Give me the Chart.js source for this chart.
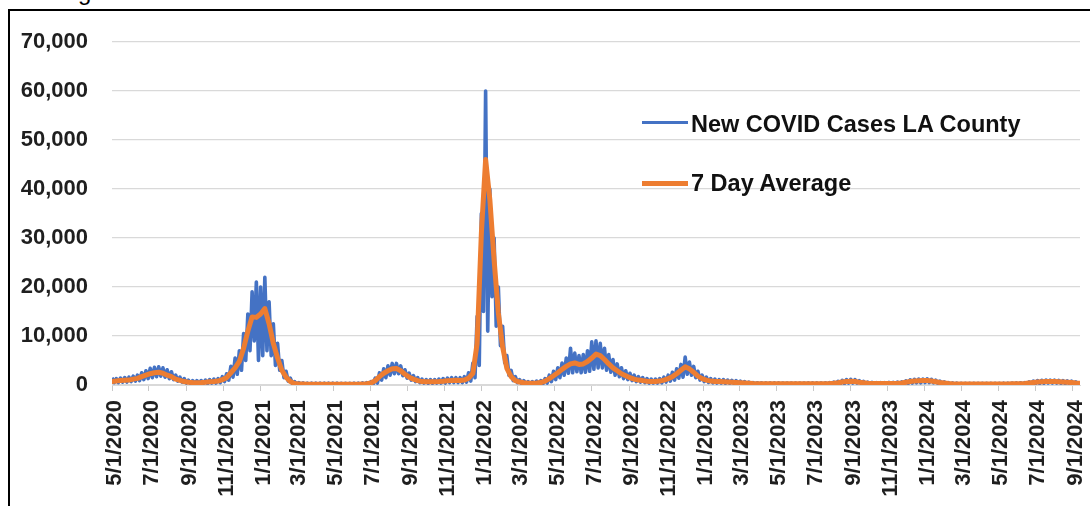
<!DOCTYPE html>
<html>
<head>
<meta charset="utf-8">
<script src="https://cdn.jsdelivr.net/npm/chart.js@4.4.1/dist/chart.umd.min.js"></script>
<style>
html,body{margin:0;padding:0;background:#fff;width:1090px;height:506px;overflow:hidden;font-family:'Liberation Sans',Arial,sans-serif;}
#frame{position:absolute;left:8px;top:9px;width:1200px;height:700px;border-left:2px solid #000;border-top:2px solid #000;}
#cut{position:absolute;left:78px;top:-20px;font-size:24px;line-height:24px;color:#000;}
#c{position:absolute;left:0;top:0;}
.sw{position:absolute;left:642px;width:46px;}
.lt{position:absolute;left:691px;font-weight:bold;font-size:23.5px;line-height:23px;color:#111;white-space:nowrap;}
</style>
</head>
<body>
<div id="cut">g</div>
<div id="frame"></div>
<canvas id="c" width="1090" height="506"></canvas>
<div class="sw" style="top:121px;height:3px;background:#4472C4"></div>
<div class="lt" style="top:113px">New COVID Cases LA County</div>
<div class="sw" style="top:181px;height:5px;background:#ED7D31"></div>
<div class="lt" style="top:172px">7 Day Average</div>
<script>
// Series names
const seriesNames = ['New COVID Cases LA County', '7 Day Average'];
// First day of the weekly readings
const startDate = '5/1/2020';
// X-axis tick labels (every two months)
const tickLabels = ['5/1/2020','7/1/2020','9/1/2020','11/1/2020','1/1/2021','3/1/2021','5/1/2021','7/1/2021','9/1/2021','11/1/2021','1/1/2022','3/1/2022','5/1/2022','7/1/2022','9/1/2022','11/1/2022','1/1/2023','3/1/2023','5/1/2023','7/1/2023','9/1/2023','11/1/2023','1/1/2024','3/1/2024','5/1/2024','7/1/2024','9/1/2024'];
// Y-axis tick values
const yTicks = [0,10000,20000,30000,40000,50000,60000,70000];

// 7-day average, one reading per week starting 5/1/2020
const avg7 = [
  700, 800, 900, 950, 1000, 1200, 1350, 1700, 2000, 2300,
  2500, 2600, 2400, 2000, 1700, 1200, 950, 700, 550, 500,
  480, 500, 550, 650, 700, 800, 1100, 1500, 2500, 3500,
  4800, 7500, 11000, 13900, 13800, 14500, 15600, 12500, 8500, 5500,
  3000, 1600, 700, 300, 200, 180, 170, 160, 160, 150,
  150, 150, 150, 150, 140, 140, 140, 150, 160, 180,
  250, 400, 900, 1700, 2400, 2900, 3300, 3350, 2900, 2200,
  1600, 1200, 900, 700, 650, 650, 680, 700, 750, 850,
  900, 950, 900, 1000, 1400, 2400, 8500, 31000, 46000, 37800,
  25500, 14700, 7800, 3400, 1700, 900, 600, 450, 350, 350,
  400, 500, 800, 1300, 1900, 2500, 3200, 3800, 4300, 4500,
  4200, 4300, 4800, 5500, 6300, 6000, 5200, 4300, 3500, 2900,
  2300, 1900, 1500, 1200, 1000, 900, 750, 700, 700, 800,
  1000, 1300, 1700, 2300, 3000, 3700, 3300, 2600, 1800, 1300,
  1000, 800, 700, 700, 650, 600, 550, 500, 450, 400,
  350, 300, 280, 260, 250, 250, 240, 240, 230, 230,
  230, 230, 230, 230, 240, 240, 250, 250, 270, 300,
  350, 450, 600, 700, 750, 700, 550, 450, 350, 320,
  300, 300, 300, 310, 320, 350, 400, 550, 700, 800,
  850, 900, 900, 800, 650, 500, 400, 300, 250, 220,
  200, 200, 200, 200, 200, 200, 200, 200, 200, 200,
  210, 220, 230, 250, 270, 300, 400, 500, 600, 650,
  700, 700, 700, 650, 600, 550, 500, 400, 350
];
// Daily new cases: weekly high reading
const dailyHigh = [
  1500, 1300, 1400, 1500, 1600, 1800, 2000, 2500, 2900, 3400,
  3600, 3700, 3500, 3100, 2700, 2000, 1600, 1300, 1000, 900,
  900, 900, 1000, 1100, 1200, 1300, 1700, 2300, 3800, 5500,
  7000, 10500, 14500, 19000, 21000, 20000, 22000, 17000, 12500, 8500,
  5000, 2800, 1400, 700, 500, 450, 400, 400, 400, 380,
  380, 380, 380, 380, 350, 350, 350, 380, 400, 420,
  500, 700, 1400, 2500, 3300, 3900, 4400, 4400, 3900, 3100,
  2400, 1900, 1500, 1200, 1100, 1100, 1100, 1200, 1300, 1400,
  1500, 1500, 1500, 1700, 2500, 4500, 14000, 35000, 60000, 40000,
  30000, 20000, 12000, 6000, 3000, 1700, 1100, 900, 700, 700,
  800, 900, 1300, 2000, 2800, 3500, 4500, 5500, 7500, 6500,
  6000, 6200, 7000, 8800, 9000, 8500, 7500, 6200, 5200, 4300,
  3500, 2900, 2400, 2000, 1700, 1500, 1300, 1200, 1200, 1300,
  1600, 2000, 2600, 3300, 4200, 5700, 4700, 3800, 2800, 2000,
  1600, 1300, 1200, 1100, 1100, 1000, 950, 900, 800, 700,
  600, 500, 450, 450, 450, 450, 420, 420, 400, 400,
  400, 400, 400, 400, 420, 420, 430, 430, 450, 500,
  600, 750, 950, 1100, 1150, 1100, 900, 750, 600, 550,
  500, 500, 500, 520, 550, 600, 650, 850, 1050, 1150,
  1200, 1200, 1250, 1150, 1000, 800, 650, 500, 420, 380,
  350, 350, 350, 350, 350, 350, 350, 350, 350, 350,
  370, 380, 400, 420, 450, 500, 650, 800, 900, 950,
  1000, 1000, 1000, 950, 900, 850, 800, 650, 550
];
// Daily new cases: weekly low reading
const dailyLow = [
  500, 500, 600, 600, 700, 800, 900, 1100, 1300, 1500,
  1700, 1800, 1600, 1300, 1100, 800, 600, 400, 300, 300,
  250, 300, 300, 400, 400, 500, 700, 1000, 1600, 2200,
  3000, 5000, 7000, 9000, 5000, 6000, 7000, 6000, 4000, 3000,
  1500, 800, 300, 100, 50, 50, 50, 50, 50, 50,
  50, 50, 50, 50, 50, 50, 50, 50, 50, 60,
  100, 200, 400, 1000, 1500, 2000, 2300, 2300, 1900, 1400,
  1000, 700, 500, 400, 350, 350, 400, 400, 400, 500,
  500, 500, 500, 600, 800, 1500, 4000, 15000, 11000, 18000,
  12000, 8000, 4500, 2000, 900, 500, 300, 200, 150, 150,
  200, 250, 400, 700, 1100, 1500, 2000, 2400, 2500, 2700,
  2500, 2600, 2800, 3200, 3500, 3500, 3000, 2600, 2000, 1700,
  1300, 1100, 900, 700, 600, 500, 400, 400, 400, 450,
  600, 800, 1000, 1400, 1600, 2200, 2000, 1500, 1000, 700,
  550, 450, 400, 400, 350, 350, 300, 300, 250, 200,
  200, 150, 120, 100, 100, 100, 100, 100, 100, 100,
  100, 100, 100, 100, 100, 100, 100, 100, 120, 150,
  150, 200, 300, 400, 400, 400, 300, 250, 200, 150,
  150, 150, 150, 150, 150, 150, 200, 300, 400, 450,
  450, 500, 500, 450, 350, 300, 200, 150, 120, 100,
  100, 100, 100, 100, 100, 100, 100, 100, 100, 100,
  100, 100, 100, 120, 130, 150, 200, 250, 300, 350,
  400, 400, 400, 350, 300, 300, 250, 200, 200
];

function dayIndex(s) {
  const [m, d, y] = s.split('/').map(Number);
  const [m0, d0, y0] = startDate.split('/').map(Number);
  return Math.round((Date.UTC(y, m - 1, d) - Date.UTC(y0, m0 - 1, d0)) / 86400000);
}
const tickDays = tickLabels.map(dayIndex);
const labelByDay = {};
tickDays.forEach((d, i) => { labelByDay[d] = tickLabels[i]; });

const weekDays = avg7.map((_, i) => i * 7);
const blueData = [];
weekDays.forEach((d, i) => {
  blueData.push({x: d, y: dailyHigh[i]});
  blueData.push({x: d + 3.5, y: dailyLow[i]});
});
const orangeData = weekDays.map((d, i) => ({x: d, y: avg7[i]}));

const FONT = "'Liberation Sans', Arial, sans-serif";

new Chart(document.getElementById('c'), {
  type: 'line',
  data: {
    datasets: [
      { label: seriesNames[1], data: orangeData, borderColor: '#ED7D31', borderWidth: 5,
        pointRadius: 0, tension: 0, borderJoinStyle: 'round', borderCapStyle: 'round', order: 0 },
      { label: seriesNames[0], data: blueData, borderColor: '#4472C4', borderWidth: 3.6,
        pointRadius: 0, tension: 0, borderJoinStyle: 'round', order: 1 }
    ]
  },
  options: {
    responsive: false,
    animation: false,
    events: [],
    layout: { padding: { left: 12, top: 42, right: 10, bottom: 0 } },
    plugins: { legend: { display: false }, tooltip: { enabled: false } },
    scales: {
      x: {
        type: 'linear',
        min: 0,
        max: 1596,
        afterBuildTicks: (scale) => { scale.ticks = tickDays.map(v => ({ value: v })); },
        afterFit: (scale) => { scale.height = 121; scale.paddingLeft = 0; scale.paddingRight = 0; },
        ticks: {
          autoSkip: false, maxRotation: 90, minRotation: 90, padding: 9, labelOffset: 3,
          color: '#1f1f1f', font: { family: FONT, size: 22, weight: 'bold' },
          callback: (v) => labelByDay[v] || ''
        },
        grid: { display: true, drawOnChartArea: false, drawTicks: true, tickLength: 6, tickColor: '#c8c8c8', color: '#c8c8c8' },
        border: { display: true, color: '#d9d9d9', width: 1 }
      },
      y: {
        min: 0,
        max: 70000,
        afterBuildTicks: (scale) => { scale.ticks = yTicks.map(v => ({ value: v })); },
        afterFit: (scale) => { scale.width = 100; },
        ticks: {
          padding: 24, color: '#1f1f1f', font: { family: FONT, size: 22, weight: 'bold' },
          callback: (v) => v.toLocaleString('en-US')
        },
        grid: { color: '#d9d9d9', lineWidth: 1.3, drawTicks: false, tickLength: 0 },
        border: { display: false }
      }
    }
  }
});
</script>
</body>
</html>
